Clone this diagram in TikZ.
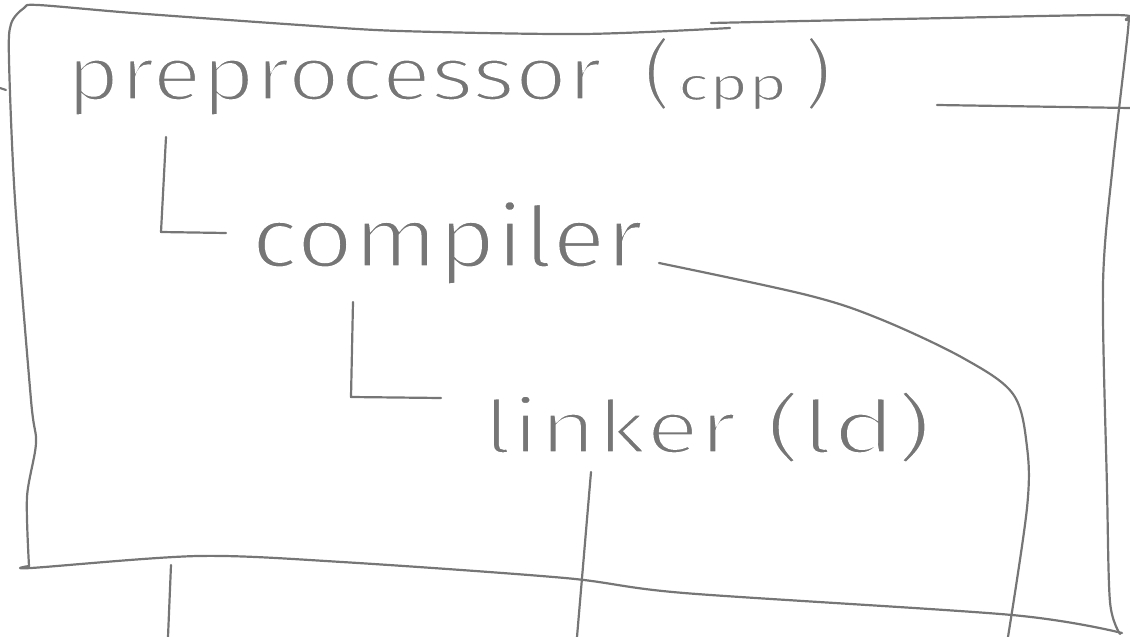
\documentclass[tikz,border=0pt]{standalone}
\usepackage{fontspec}
\usepackage{graphicx}
\newfontfamily\hand{Fira Sans}
\definecolor{pen}{RGB}{118,118,118}
% pencil-thin letters: a white outline stroke shaves the glyph edges
\newcommand\shave[1]{\special{pdf:code 1 Tr 3.0 w}#1\special{pdf:code 0 Tr 1 w}}
\newcommand\cpptext{{\fontsize{46}{50}\selectfont\scalebox{1.3}[1]{cpp}}}
\newcommand\cppshaved{\special{pdf:code 1.5 w}\cpptext\special{pdf:code 3.0 w}}
\newcommand\pretext[1]{\scalebox{1.19}[1]{preprocessor}\hspace{0.55em}\scalebox{1.1}[1]{(\hspace{0.08em}#1\hspace{0.2em})}}
\newcommand\comptext{\scalebox{1.155}[1]{compiler}}
\newcommand\linktext{\scalebox{1.32}[1]{linker}\hspace{0.4em}\scalebox{1.45}[1]{(ld)}}
\begin{document}
\begin{tikzpicture}[x=1pt,y=-1pt,
  penline/.style={draw=pen, line width=2.2pt, line cap=round, line join=round},
  handtext/.style={text=pen, inner sep=0pt, anchor=base west},
  shaved/.style={text=white, inner sep=0pt, anchor=base west}]
\useasboundingbox (0,0) rectangle (1130,637);

% the three stages
\node[handtext, font=\hand\fontsize{76}{80}\selectfont] (pre) at (66,100) {\pretext{\cpptext}};
\node[shaved, font=\hand\fontsize{76}{80}\selectfont] (pre-thin) at (66,100) {\shave{\pretext{\cppshaved}}};
\node[handtext, font=\hand\fontsize{85}{90}\selectfont] (comp) at (251,267) {\comptext};
\node[shaved, font=\hand\fontsize{85}{90}\selectfont] (comp-thin) at (251,267) {\shave{\comptext}};
\node[handtext, font=\hand\fontsize{74}{80}\selectfont] (link) at (483,453) {\linktext};
\node[shaved, font=\hand\fontsize{74}{80}\selectfont] (link-thin) at (483,453) {\shave{\linktext}};

% tree branches
\coordinate (b1top) at (166,137);
\coordinate (b1bend) at (161,232);
\coordinate (b1end) at (226,233);
\coordinate (b2top) at (353,302);
\coordinate (b2bend) at (351,397);
\coordinate (b2end) at (441,398);
\draw[penline] (b1top) -- (b1bend) -- (b1end);
\draw[penline] (b2top) -- (b2bend) -- (b2end);

% frame
\draw[penline] plot[smooth, tension=0.5] coordinates {(29,566) (27,497) (36,443) (31,400) (15,200) (9,60) (11,24) (24,8) (38,5) (133,13) (300,25) (400,31) (583,34) (730,28)};
\draw[penline] plot[smooth, tension=0.5] coordinates {(711,23) (900,19) (1112,15) (1126,20) (1128,30) (1113,163) (1103,285) (1107,488) (1110,602) (1120,634)};
\draw[penline] plot[smooth, tension=0.5] coordinates {(29,566) (31,568) (198,556) (342,562) (565,578) (684,593) (1012,615) (1122,633)};
\draw[penline] (0,88) -- (6,90);

% outgoing lines
\coordinate (ppout) at (937,105);
\coordinate (ppedge) at (1130,108);
\draw[penline] (ppout) -- (ppedge);
\coordinate (ccout) at (659,263);
\coordinate (ccedge) at (1008,637);
\draw[penline] plot[smooth, tension=0.55] coordinates {(ccout) (807,295) (880,319) (963,358) (1013,394) (1027,447) (1027,508) (ccedge)};
\coordinate (llout) at (591,472);
\coordinate (lledge) at (577,637);
\draw[penline] (llout) -- (lledge);
\coordinate (boxout) at (171,565);
\coordinate (boxedge) at (168,637);
\draw[penline] (boxout) -- (boxedge);
\end{tikzpicture}
\end{document}
